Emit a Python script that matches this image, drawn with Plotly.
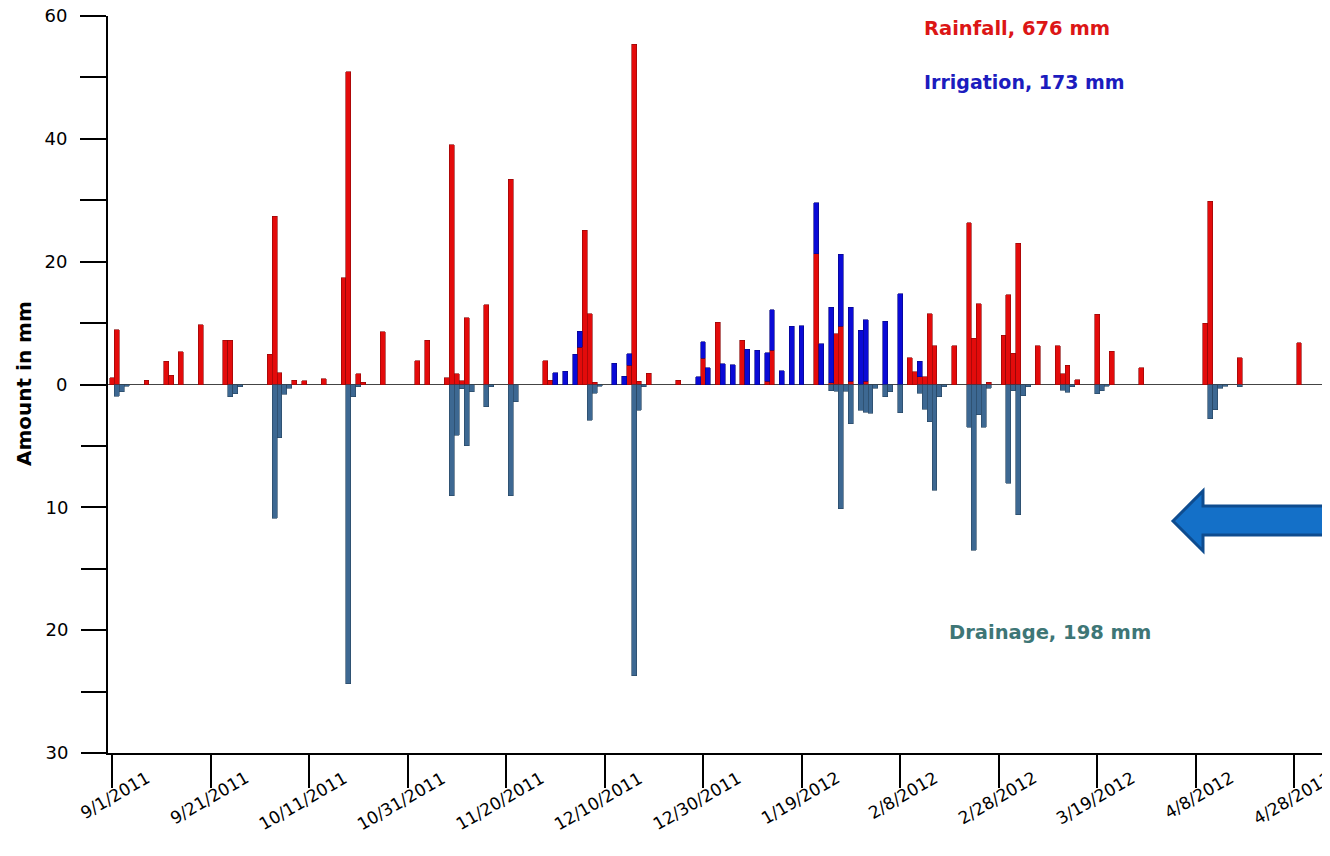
import plotly.graph_objects as go

# ---------------- data ----------------
rain_dates = ["2011-09-01", "2011-09-02", "2011-09-08", "2011-09-12", "2011-09-13", "2011-09-15",
              "2011-09-19", "2011-09-24", "2011-09-25", "2011-10-03", "2011-10-04", "2011-10-05",
              "2011-10-08", "2011-10-10", "2011-10-14", "2011-10-18", "2011-10-19", "2011-10-21",
              "2011-10-22", "2011-10-26", "2011-11-02", "2011-11-04", "2011-11-08", "2011-11-09",
              "2011-11-10", "2011-11-11", "2011-11-12", "2011-11-16", "2011-11-21", "2011-11-28",
              "2011-11-29", "2011-12-05", "2011-12-06", "2011-12-07", "2011-12-08", "2011-12-15",
              "2011-12-16", "2011-12-17", "2011-12-19", "2011-12-25", "2011-12-30", "2012-01-02",
              "2012-01-07", "2012-01-12", "2012-01-13", "2012-01-22", "2012-01-25", "2012-01-26",
              "2012-01-27", "2012-01-29", "2012-02-01", "2012-02-10", "2012-02-11", "2012-02-12",
              "2012-02-13", "2012-02-14", "2012-02-15", "2012-02-19", "2012-02-22", "2012-02-23",
              "2012-02-24", "2012-02-26", "2012-02-29", "2012-03-01", "2012-03-02", "2012-03-03",
              "2012-03-07", "2012-03-11", "2012-03-12", "2012-03-13", "2012-03-15", "2012-03-19",
              "2012-03-22", "2012-03-28", "2012-04-10", "2012-04-11", "2012-04-17", "2012-04-29"]
rain_mm = [1.1, 8.9, 0.7, 3.75, 1.5, 5.35,
           9.75, 7.2, 7.2, 4.95, 27.4, 1.95,
           0.7, 0.6, 0.9, 17.4, 50.9, 1.75,
           0.35, 8.55, 3.9, 7.2, 1.1, 39.05,
           1.75, 0.6, 10.9, 12.95, 33.4, 3.9,
           0.7, 6.1, 25.1, 11.55, 0.4, 3.1,
           55.4, 0.55, 1.8, 0.7, 4.3, 10.15,
           7.2, 0.5, 5.55, 21.3, 0.3, 8.25,
           9.5, 0.5, 0.5, 4.35, 2.1, 1.3,
           1.3, 11.5, 6.3, 6.3, 26.35, 7.55,
           13.15, 0.4, 8.0, 14.6, 5.1, 23.0,
           6.35, 6.35, 1.75, 3.1, 0.75, 11.4,
           5.4, 2.7, 10.0, 29.85, 4.35, 6.8]

irr_dates = ["2011-11-30", "2011-12-02", "2011-12-04", "2011-12-05", "2011-12-12", "2011-12-14",
             "2011-12-15", "2011-12-29", "2011-12-30", "2011-12-31", "2012-01-03", "2012-01-05",
             "2012-01-08", "2012-01-10", "2012-01-12", "2012-01-13", "2012-01-15", "2012-01-17",
             "2012-01-19", "2012-01-22", "2012-01-23", "2012-01-25", "2012-01-27", "2012-01-29",
             "2012-01-31", "2012-02-01", "2012-02-05", "2012-02-08", "2012-02-12"]
irr_mm = [1.95, 2.15, 4.95, 2.6, 3.5, 1.35,
          1.9, 1.3, 2.7, 2.7, 3.4, 3.2,
          5.7, 5.55, 4.65, 6.65, 2.2, 9.45,
          9.55, 8.3, 6.6, 12.3, 11.7, 12.1,
          8.8, 10.05, 10.3, 14.8, 2.45]

drain_dates = ["2011-09-02", "2011-09-03", "2011-09-04", "2011-09-25", "2011-09-26", "2011-09-27",
               "2011-10-04", "2011-10-05", "2011-10-06", "2011-10-07", "2011-10-19", "2011-10-20",
               "2011-10-21", "2011-11-09", "2011-11-10", "2011-11-11", "2011-11-12", "2011-11-13",
               "2011-11-16", "2011-11-17", "2011-11-21", "2011-11-22", "2011-12-07", "2011-12-08",
               "2011-12-09", "2011-12-16", "2011-12-17", "2011-12-18", "2012-01-25", "2012-01-26",
               "2012-01-27", "2012-01-28", "2012-01-29", "2012-01-31", "2012-02-01", "2012-02-02",
               "2012-02-03", "2012-02-05", "2012-02-06", "2012-02-08", "2012-02-12", "2012-02-13",
               "2012-02-14", "2012-02-15", "2012-02-16", "2012-02-17", "2012-02-22", "2012-02-23",
               "2012-02-24", "2012-02-25", "2012-02-26", "2012-03-01", "2012-03-02", "2012-03-03",
               "2012-03-04", "2012-03-05", "2012-03-12", "2012-03-13", "2012-03-14", "2012-03-19",
               "2012-03-20", "2012-03-21", "2012-04-11", "2012-04-12", "2012-04-13", "2012-04-14",
               "2012-04-17"]
drain_mm = [0.95, 0.6, 0.15, 1.0, 0.77, 0.2,
            10.9, 4.35, 0.8, 0.3, 24.35, 1.0,
            0.2, 9.05, 4.15, 0.35, 4.97, 0.6,
            1.8, 0.2, 9.05, 1.4, 2.9, 0.7,
            0.15, 23.7, 2.1, 0.2, 0.5, 0.55,
            10.1, 0.55, 3.2, 2.1, 2.25, 2.35,
            0.3, 0.98, 0.6, 2.3, 0.7, 2.0,
            3.05, 8.6, 1.0, 0.2, 3.5, 13.5,
            2.45, 3.5, 0.3, 8.05, 0.5, 10.6,
            0.9, 0.2, 0.45, 0.65, 0.2, 0.75,
            0.5, 0.15, 2.8, 2.05, 0.3, 0.15,
            0.2]

x_tick_dates = ["2011-09-01", "2011-09-21", "2011-10-11", "2011-10-31", "2011-11-20", "2011-12-10",
                "2011-12-30", "2012-01-19", "2012-02-08", "2012-02-28", "2012-03-19", "2012-04-08",
                "2012-04-28"]
x_tick_labels = ["9/1/2011", "9/21/2011", "10/11/2011", "10/31/2011", "11/20/2011", "12/10/2011",
                 "12/30/2011", "1/19/2012", "2/8/2012", "2/28/2012", "3/19/2012", "4/8/2012",
                 "4/28/2012"]

upper_tickvals = [0, 10, 20, 30, 40, 50, 60]
upper_ticktext = ["0", "", "20", "", "40", "", "60"]
lower_tickvals = [5, 10, 15, 20, 25, 30]
lower_ticktext = ["", "10", "", "20", "", "30"]

totals = {"Rainfall": 676, "Irrigation": 173, "Drainage": 198}

# ---------------- layout geometry ----------------
# the page body has an 8px default margin, so figure coords = page coords - 8
OFF = 8
W, H = 1330, 856
ML, MT = 108 - OFF, 16 - OFF
MB = H - (753 - OFF)
MR = W - (1330 - OFF)
PW, PH = W - ML - MR, H - MT - MB


def fx(px):
    """page pixel x -> paper x"""
    return (px - OFF - ML) / PW


def fy(py):
    """page pixel y -> paper y"""
    return ((H - MB) - (py - OFF)) / PH


DAY = 86400000
FONT = "DejaVu Sans"

fig = go.Figure()
fig.add_trace(go.Bar(x=rain_dates, y=rain_mm, width=DAY, name="Rainfall",
                     marker=dict(color="#E30B0B", line=dict(color="#8A0606", width=0.6))))
fig.add_trace(go.Bar(x=irr_dates, y=irr_mm, width=DAY, name="Irrigation",
                     marker=dict(color="#0A0AD6", line=dict(color="#050580", width=0.6))))
fig.add_trace(go.Bar(x=drain_dates, y=drain_mm, width=DAY, name="Drainage", yaxis="y2",
                     marker=dict(color="#3D6892", line=dict(color="#26445F", width=0.6))))

fig.update_layout(
    width=W, height=H,
    margin=dict(l=ML, r=MR, t=MT, b=MB, autoexpand=False),
    paper_bgcolor="white", plot_bgcolor="white",
    barmode="stack", showlegend=False,
    font=dict(family=FONT, color="black"),
    xaxis=dict(type="date", range=["2011-08-31 04:30", "2012-05-05 07:10"],
               tickmode="array", tickvals=x_tick_dates, showticklabels=False, automargin=False,
               ticks="outside", ticklen=33, tickwidth=2, tickcolor="black",
               showline=True, linewidth=2, linecolor="black", showgrid=False, zeroline=False),
    yaxis=dict(range=[-60, 60], tickmode="array", tickvals=upper_tickvals, ticktext=upper_ticktext,
               ticks="outside", ticklen=26, tickwidth=2, tickcolor="black",
               tickfont=dict(family=FONT, size=18, color="black"), ticklabelstandoff=9,
               ticklabeloverflow="allow", automargin=False,
               showline=True, linewidth=2, linecolor="black", showgrid=False,
               zeroline=True, zerolinecolor="#444444", zerolinewidth=1),
    yaxis2=dict(range=[30, -30], overlaying="y", side="left", anchor="x",
                tickmode="array", tickvals=lower_tickvals, ticktext=lower_ticktext,
                ticks="outside", ticklen=26, tickwidth=2, tickcolor="black",
                tickfont=dict(family=FONT, size=18, color="black"), ticklabelstandoff=9,
                ticklabeloverflow="allow", automargin=False,
                showline=False, showgrid=False, zeroline=False),
)

annotations = []
for d, lab in zip(x_tick_dates, x_tick_labels):
    annotations.append(dict(x=d, xref="x", y=fy(765), yref="paper", text=lab, showarrow=False,
                            xanchor="right", yanchor="top", xshift=44, textangle=-30,
                            font=dict(family=FONT, size=17, color="black")))

annotations.append(dict(x=fx(24), xref="paper", y=fy(384), yref="paper", text="<b>Amount in mm</b>",
                        showarrow=False, textangle=-90, xanchor="center", yanchor="middle",
                        font=dict(family=FONT, size=20, color="black")))
annotations.append(dict(x=fx(922), xref="paper", y=fy(28), yref="paper",
                        text=f"<b>Rainfall, {totals['Rainfall']} mm</b>", showarrow=False,
                        xanchor="left", yanchor="middle",
                        font=dict(family=FONT, size=19.5, color="#DC1616")))
annotations.append(dict(x=fx(922), xref="paper", y=fy(82), yref="paper",
                        text=f"<b>Irrigation, {totals['Irrigation']} mm</b>", showarrow=False,
                        xanchor="left", yanchor="middle",
                        font=dict(family=FONT, size=19, color="#1C1CBE")))
annotations.append(dict(x=fx(947), xref="paper", y=fy(632), yref="paper",
                        text=f"<b>Drainage, {totals['Drainage']} mm</b>", showarrow=False,
                        xanchor="left", yanchor="middle",
                        font=dict(family=FONT, size=19.5, color="#3E7676")))
fig.update_layout(annotations=annotations)

# decorative block arrow pointing left
pts = [(1173, 521), (1203, 491), (1203, 506), (1345, 506), (1345, 535), (1203, 535), (1203, 551)]
path = "M " + " L ".join(f"{fx(px):.5f},{fy(py):.5f}" for px, py in pts) + " Z"
fig.add_shape(type="path", path=path, xref="paper", yref="paper",
              fillcolor="#1470C8", line=dict(color="#0E4C8F", width=3), layer="above")

fig.write_html("out.html")
